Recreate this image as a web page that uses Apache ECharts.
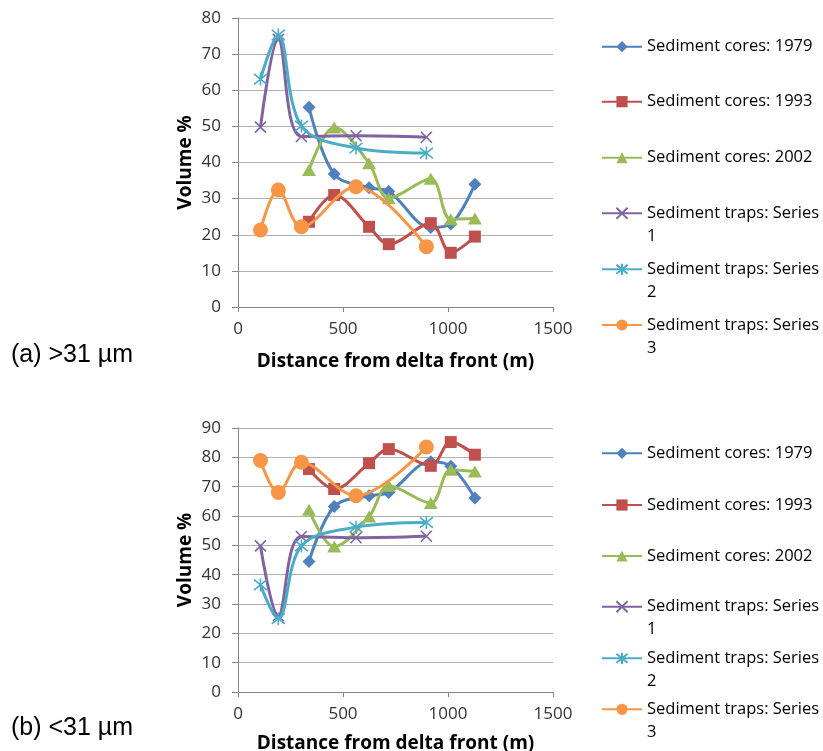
<!DOCTYPE html>
<html>
<head>
<meta charset="utf-8">
<script src="https://cdn.jsdelivr.net/npm/echarts@6/dist/echarts.min.js"></script>
<style>
html,body{margin:0;padding:0;background:#fff;}
#chart{width:823px;height:751px;}
</style>
</head>
<body>
<div id="chart"></div>
<script>
// ---- Data ----
const coreX = [338, 458, 624, 718, 918, 1013, 1128];
const trapX = [107, 192, 302, 562, 897];

// (a) >31 µm
const coarse1979 = [55.3, 36.8, 33.0, 32.0, 22.0, 23.0, 34.0];
const coarse1993 = [23.6, 31.0, 22.2, 17.4, 23.2, 15.0, 19.5];
const coarse2002 = [37.9, 49.7, 39.8, 30.1, 35.5, 24.3, 24.5];
const coarseTrap1 = [49.8, 74.1, 47.2, 47.4, 47.0];
const coarseTrap2 = [63.1, 75.3, 50.1, 44.0, 42.6];
const coarseTrap3 = [21.3, 32.4, 22.2, 33.3, 16.7];

// (b) <31 µm
const fine1979 = [44.5, 63.2, 66.9, 68.0, 78.5, 77.0, 66.1];
const fine1993 = [76.0, 69.2, 78.0, 82.8, 77.1, 85.2, 80.9];
const fine2002 = [62.1, 49.6, 59.8, 70.3, 64.4, 75.8, 75.2];
const fineTrap1 = [49.8, 26.0, 53.0, 52.6, 53.1];
const fineTrap2 = [36.5, 25.0, 49.8, 56.2, 57.8];
const fineTrap3 = [78.9, 68.0, 78.3, 66.9, 83.5];

const seriesNames = ['Sediment cores: 1979', 'Sediment cores: 1993', 'Sediment cores: 2002',
  'Sediment traps: Series 1', 'Sediment traps: Series 2', 'Sediment traps: Series 3'];
const legendLabels = ['Sediment cores: 1979', 'Sediment cores: 1993', 'Sediment cores: 2002',
  'Sediment traps: Series\n1', 'Sediment traps: Series\n2', 'Sediment traps: Series\n3'];
const xTicks = [0, 500, 1000, 1500];
const panelLabels = ['(a) >31 µm', '(b) <31 µm'];

// ---- Styles ----
const colors = ['#4F81BD', '#C0504D', '#9BBB59', '#8064A2', '#4BACC6', '#F79646'];
const symbols = ['diamond', 'rect', 'triangle',
  'path://M0,0L10,10M10,0L0,10',
  'path://M1,1L9,9M9,1L1,9M5,0L5,10',
  'circle'];
const symbolSizes = [[13, 13], 12, [14, 12], 11, 13, 15];
const strokeOnly = [false, false, false, true, true, false];

const FONT = '"Open Sans", "Noto Sans", sans-serif';

function pairs(xs, ys) { return xs.map((x, i) => [x, ys[i]]); }

const panels = [
  { top: 18, height: 289, ymax: 80, data: [coarse1979, coarse1993, coarse2002, coarseTrap1, coarseTrap2, coarseTrap3],
    legendY: [46.7, 101.7, 157.7, 213.3, 269.3, 325], labelY: 355, xNameGap: 45 },
  { top: 428, height: 264, ymax: 90, data: [fine1979, fine1993, fine2002, fineTrap1, fineTrap2, fineTrap3],
    legendY: [453.3, 505, 556, 606.7, 658.3, 709.3], labelY: 728, xNameGap: 42 }
];

const grid = [], xAxis = [], yAxis = [], series = [], legend = [], graphic = [];

panels.forEach((p, gi) => {
  grid.push({ left: 238, top: p.top, width: 315, height: p.height, containLabel: false, outerBoundsMode: 'none' });
  xAxis.push({
    type: 'value', gridIndex: gi, min: xTicks[0], max: xTicks[xTicks.length - 1], interval: 500,
    name: 'Distance from delta front (m)', nameLocation: 'middle', nameGap: p.xNameGap,
    nameTextStyle: { fontFamily: FONT, fontWeight: 'bold', fontSize: 19, color: '#000' },
    axisLine: { lineStyle: { color: '#868686', width: 1 } },
    axisTick: { show: true, inside: false, length: 5, lineStyle: { color: '#868686' } },
    axisLabel: { fontFamily: FONT, fontSize: 17, color: '#333', margin: 14, formatter: v => String(v) },
    splitLine: { show: false }
  });
  yAxis.push({
    type: 'value', gridIndex: gi, min: 0, max: p.ymax, interval: 10,
    name: 'Volume %', nameLocation: 'middle', nameGap: 43, nameRotate: 90,
    nameTextStyle: { fontFamily: FONT, fontWeight: 'bold', fontSize: 19, color: '#000' },
    axisLine: { show: true, lineStyle: { color: '#868686', width: 1 } },
    axisTick: { show: true, inside: false, length: 6, lineStyle: { color: '#868686' } },
    axisLabel: { fontFamily: FONT, fontSize: 17, color: '#333', margin: 17, formatter: v => String(v) },
    splitLine: { show: true, lineStyle: { color: '#b0b0b0', width: 1 } }
  });
  p.data.forEach((ys, si) => {
    const xs = si < 3 ? coreX : trapX;
    const c = colors[si];
    series.push({
      type: 'line', name: seriesNames[si], xAxisIndex: gi, yAxisIndex: gi,
      data: pairs(xs, ys), smooth: 0.35,
      symbol: symbols[si], symbolSize: symbolSizes[si],
      lineStyle: { color: c, width: 3 },
      itemStyle: strokeOnly[si]
        ? { color: c, borderColor: c, borderWidth: 1.6 }
        : { color: c, borderColor: c, borderWidth: 0 },
      z: 2 + si
    });
  });
  seriesNames.forEach((nm, si) => {
    const two = si >= 3;
    const L = 23;
    legend.push({
      data: [nm], orient: 'vertical', left: 601,
      top: two ? p.legendY[si] - 34.5 : p.legendY[si] - 11.5,
      padding: 0, itemWidth: 40, itemHeight: 14, itemGap: 0,
      selectedMode: false,
      // leading blank line keeps the icon level with the first text line
      formatter: () => (two ? ' \n' : '') + legendLabels[si],
      textStyle: { fontFamily: FONT, fontSize: 16.5, color: '#000', lineHeight: L }
    });
  });
  graphic.push({
    type: 'text', x: 11, y: p.labelY,
    style: { text: panelLabels[gi], font: '25px "Liberation Sans", Arial, sans-serif', fill: '#000',
      verticalAlign: 'middle', align: 'left' }
  });
});

const chart = echarts.init(document.getElementById('chart'), null, { renderer: 'canvas' });
chart.setOption({
  animation: false,
  backgroundColor: '#fff',
  grid, xAxis, yAxis, series, legend, graphic
});
</script>
</body>
</html>
